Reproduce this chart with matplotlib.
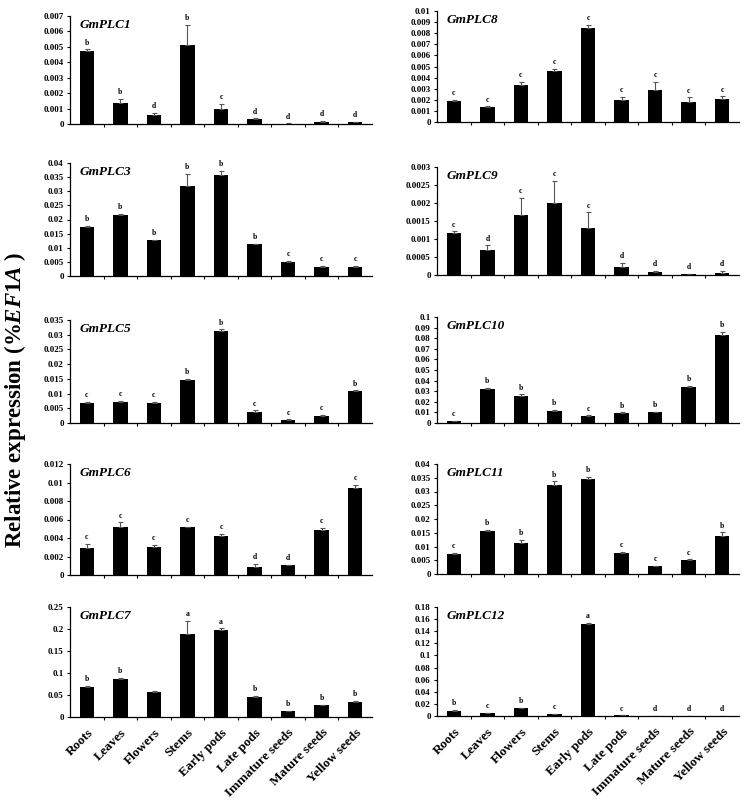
import numpy as np
import matplotlib
matplotlib.use("Agg")
import matplotlib.pyplot as plt
from matplotlib.ticker import FuncFormatter, FixedLocator

plt.rcParams["font.family"] = ["Liberation Serif", "DejaVu Serif"]
plt.rcParams["font.weight"] = "bold"
plt.rcParams["mathtext.fontset"] = "custom"
plt.rcParams["mathtext.it"] = "Liberation Serif:italic:bold"
plt.rcParams["mathtext.rm"] = "Liberation Serif:bold"

tissues = ["Roots", "Leaves", "Flowers", "Stems", "Early pods", "Late pods",
           "Immature seeds", "Mature seeds", "Yellow seeds"]

# expression values, upper error, significance letters
plc1 = [0.00472, 0.00135, 0.00060, 0.00510, 0.00097, 0.00030, 0.00003, 0.00015, 0.00012]
plc1_err = [0.00011, 0.00026, 0.00011, 0.00134, 0.00032, 0.00006, 0.00001, 0.00005, 0.00003]
plc1_sig = ["b", "b", "d", "b", "c", "d", "d", "d", "d"]

plc8 = [0.00186, 0.00132, 0.00336, 0.00456, 0.00847, 0.00200, 0.00291, 0.00180, 0.00210]
plc8_err = [0.00015, 0.00009, 0.00024, 0.00020, 0.00027, 0.00028, 0.00069, 0.00042, 0.00021]
plc8_sig = ["c"] * 9

plc3 = [0.0173, 0.0216, 0.0126, 0.0320, 0.03575, 0.0113, 0.0051, 0.0031, 0.0033]
plc3_err = [0.0005, 0.0005, 0.0002, 0.0042, 0.0015, 0.0002, 0.0003, 0.0004, 0.0003]
plc3_sig = ["b", "b", "b", "b", "b", "b", "c", "c", "c"]

plc9 = [0.00117, 0.00069, 0.00167, 0.00201, 0.00130, 0.00021, 0.00008, 0.00002, 0.000065]
plc9_err = [0.00004, 0.00013, 0.00048, 0.00061, 0.00044, 0.00012, 0.00003, 0.00001, 0.00005]
plc9_sig = ["c", "d", "c", "c", "c", "d", "d", "d", "d"]

plc5 = [0.0069, 0.0073, 0.0069, 0.0147, 0.0314, 0.0038, 0.0011, 0.0023, 0.0110]
plc5_err = [0.0002, 0.0001, 0.0002, 0.0003, 0.0004, 0.0005, 0.0001, 0.0004, 0.0001]
plc5_sig = ["c", "c", "c", "b", "b", "c", "c", "c", "b"]

plc10 = [0.0016, 0.0320, 0.0255, 0.0116, 0.0066, 0.0097, 0.0104, 0.0343, 0.0830]
plc10_err = [0.0005, 0.0010, 0.0015, 0.0006, 0.0005, 0.0004, 0.0002, 0.0010, 0.0030]
plc10_sig = ["c", "b", "b", "b", "c", "b", "b", "b", "b"]

plc6 = [0.00296, 0.00524, 0.00307, 0.00517, 0.00423, 0.00087, 0.00108, 0.00488, 0.00940]
plc6_err = [0.00040, 0.00045, 0.00018, 0.00007, 0.00022, 0.00032, 0.00005, 0.00025, 0.00036]
plc6_sig = ["c", "c", "c", "c", "c", "d", "d", "c", "c"]

plc11 = [0.00715, 0.0158, 0.0114, 0.0325, 0.0347, 0.00776, 0.0028, 0.0050, 0.0139]
plc11_err = [0.0004, 0.0001, 0.0009, 0.0012, 0.0007, 0.0004, 0.0002, 0.0003, 0.0012]
plc11_sig = ["c", "b", "b", "b", "b", "c", "c", "c", "b"]

plc7 = [0.069, 0.0864, 0.057, 0.1886, 0.1985, 0.0455, 0.0136, 0.027, 0.035]
plc7_err = [0.002, 0.003, 0.002, 0.030, 0.003, 0.002, 0.001, 0.001, 0.002]
plc7_sig = ["b", "b", "", "a", "a", "b", "b", "b", "b"]

plc12 = [0.0088, 0.0044, 0.0126, 0.0027, 0.152, 0.0010, 0.0002, 0.0001, 0.0001]
plc12_err = [0.0012, 0.0004, 0.0010, 0.0005, 0.0015, 0.0001, 0.0, 0.0, 0.0]
plc12_sig = ["b", "c", "b", "c", "a", "c", "d", "d", "d"]

panels = [
    ("GmPLC1", plc1, plc1_err, plc1_sig, 0.007, 0.001),
    ("GmPLC8", plc8, plc8_err, plc8_sig, 0.01, 0.001),
    ("GmPLC3", plc3, plc3_err, plc3_sig, 0.04, 0.005),
    ("GmPLC9", plc9, plc9_err, plc9_sig, 0.003, 0.0005),
    ("GmPLC5", plc5, plc5_err, plc5_sig, 0.035, 0.005),
    ("GmPLC10", plc10, plc10_err, plc10_sig, 0.1, 0.01),
    ("GmPLC6", plc6, plc6_err, plc6_sig, 0.012, 0.002),
    ("GmPLC11", plc11, plc11_err, plc11_sig, 0.04, 0.005),
    ("GmPLC7", plc7, plc7_err, plc7_sig, 0.25, 0.05),
    ("GmPLC12", plc12, plc12_err, plc12_sig, 0.18, 0.02),
]

W, H = 746, 809
fig = plt.figure(figsize=(W / 100, H / 100), dpi=100)

# pixel boxes for each panel: column x-range, row y-range
col_x = [(70, 372), (437, 739)]
row_y = [[(16, 124), (11, 122)],
         [(163, 276), (167, 275)],
         [(320, 423), (317, 423)],
         [(464, 575), (464, 574)],
         [(607, 717), (607, 716)]]

x = np.arange(len(tissues))

for i, (name, vals, errs, sig, ymax, step) in enumerate(panels):
    r, c = divmod(i, 2)
    x0, x1 = col_x[c]
    y0, y1 = row_y[r][c]
    ax = fig.add_axes([x0 / W, 1 - y1 / H, (x1 - x0) / W, (y1 - y0) / H])

    ax.bar(x, vals, width=0.43, color="black",
           yerr=[np.zeros(len(errs)), errs], capsize=1.8,
           error_kw=dict(ecolor="#555555", elinewidth=0.8, capthick=0.8))
    for xi, v, e, s in zip(x, vals, errs, sig):
        if s:
            ax.annotate(s, (xi, v + e), xytext=(0, 2), textcoords="offset points",
                        ha="center", va="bottom", fontsize=5.5, fontweight="bold")

    ax.set_xlim(-0.5, 8.5)
    ax.set_ylim(0, ymax)
    ax.set_yticks(np.arange(0, ymax + step / 2, step))
    ax.yaxis.set_major_formatter(FuncFormatter(lambda v, p: "{:g}".format(round(v, 6))))
    ax.tick_params(axis="y", direction="out", length=2.5, width=0.8, labelsize=6.5, pad=2)

    ax.xaxis.set_major_locator(FixedLocator(x[:-1] + 0.5))
    ax.tick_params(axis="x", which="major", direction="out", length=2.5, width=0.8,
                   labelbottom=False)
    if r == 4:
        ax.set_xticks(x, minor=True)
        ax.set_xticklabels(tissues, minor=True, rotation=45, ha="right",
                           rotation_mode="anchor", fontsize=9.5, fontweight="bold")
        ax.tick_params(axis="x", which="minor", length=0, pad=7)

    for sp in ["top", "right"]:
        ax.spines[sp].set_visible(False)
    for sp in ["left", "bottom"]:
        ax.spines[sp].set_linewidth(0.9)

    ax.text(0.03, 0.97, name, transform=ax.transAxes, ha="left", va="top",
            fontsize=9.5, fontweight="bold", fontstyle="italic")

fig.text(15 / W, 1 - 400 / H, r"Relative expression (%$\mathit{EF1A}$ )",
         rotation=90, ha="center", va="center", fontsize=16.5, fontweight="bold")

fig.savefig("out.png", dpi=100)
